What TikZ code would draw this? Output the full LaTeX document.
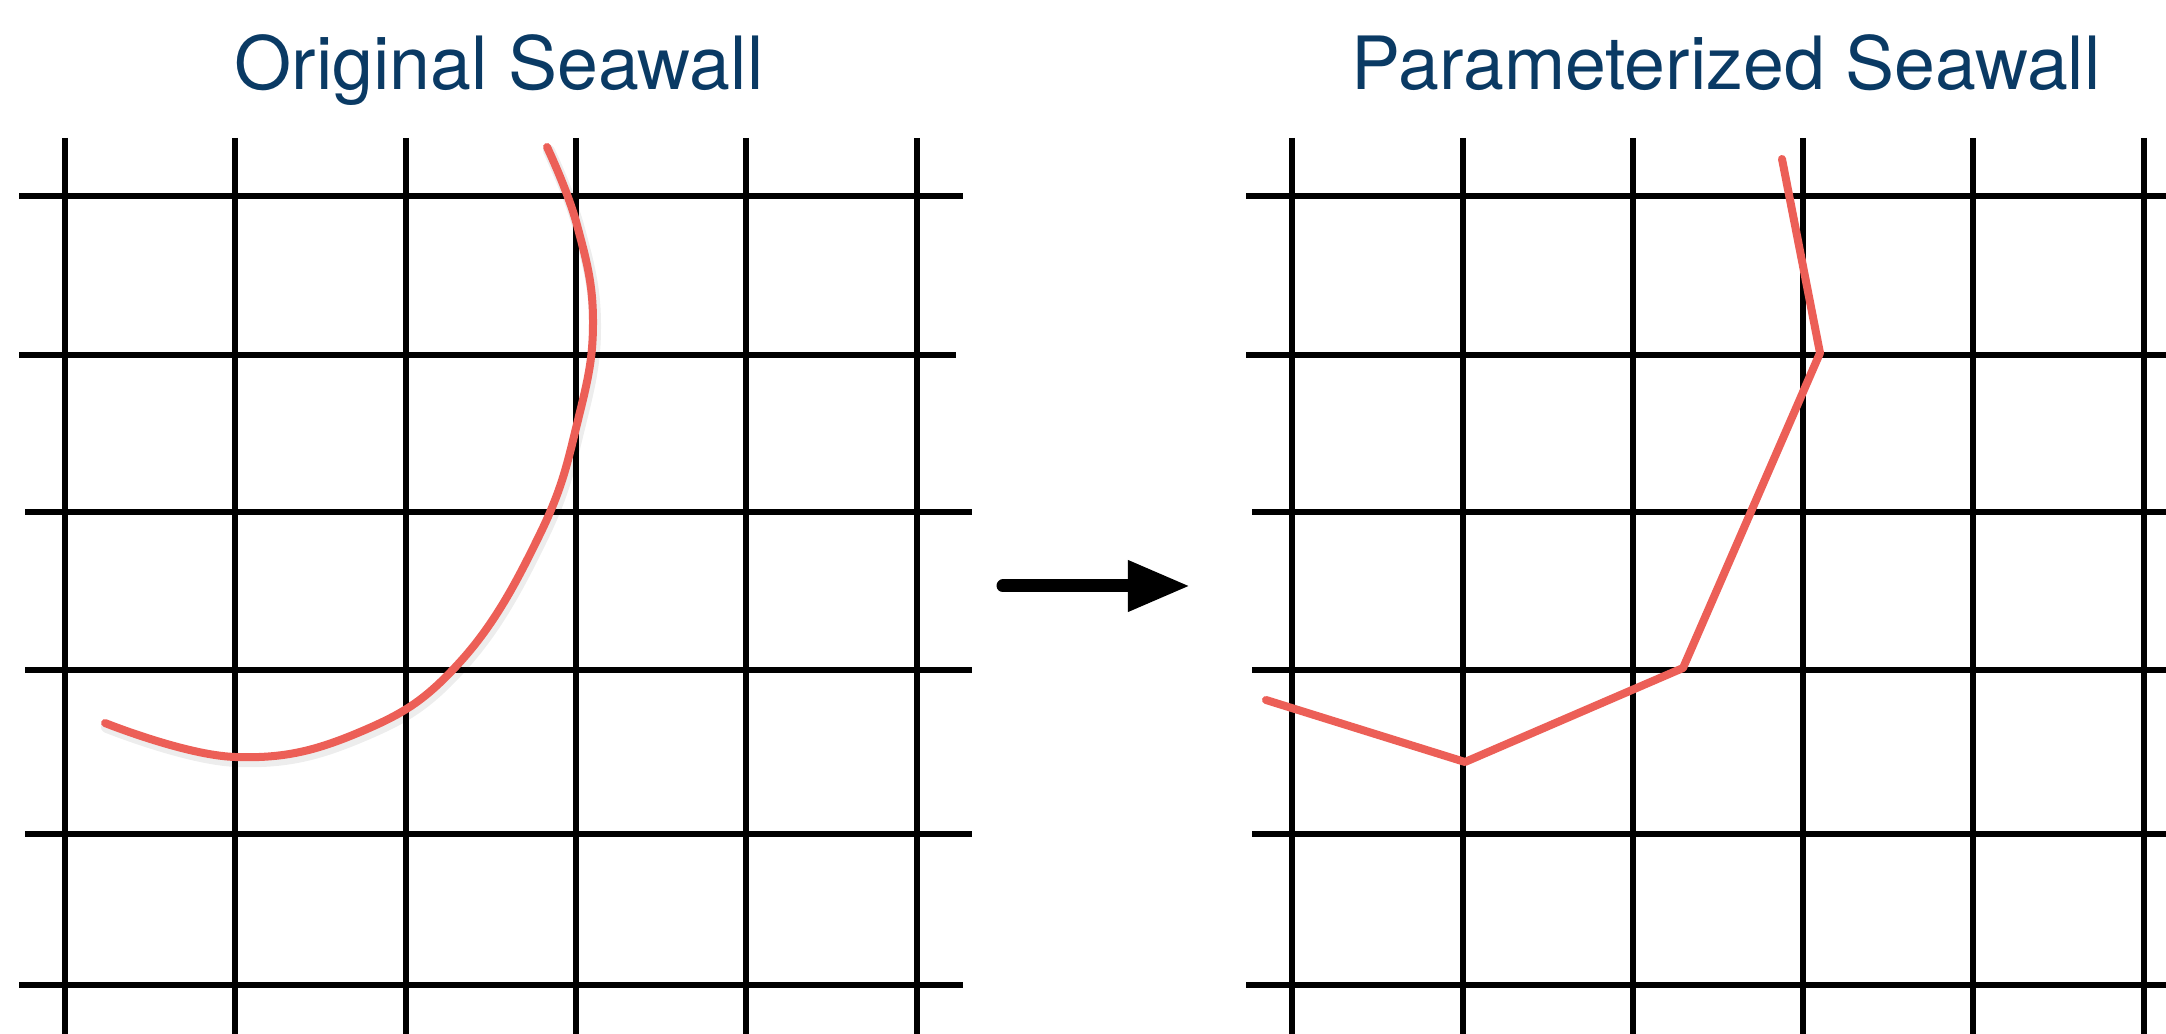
\documentclass[tikz,border=0pt]{standalone}
\usepackage{fontspec}
\setmainfont{TeX Gyre Heros}
\usepackage{xcolor}
\usetikzlibrary{arrows.meta}
\definecolor{titleblue}{RGB}{10,58,100}
\definecolor{wallred}{RGB}{236,95,87}

\begin{document}
\begin{tikzpicture}[
  x=0.01cm, y=-0.01cm,
  title/.style={font=\fontsize{20.9}{25}\selectfont, text=titleblue,
    anchor=base, inner sep=0pt},
  gridline/.style={line width=0.55mm, black},
  wall/.style={line width=0.8mm, wallred, line join=round, line cap=round},
  wallshadow/.style={line width=1.2mm, black, opacity=0.07, line cap=round},
  >={Triangle[length=6.2mm, width=4.8mm]}
]
\useasboundingbox (0,0) rectangle (2166,1034);

\node[title] (orig) at (499,90) {Original Seawall};
\node[title] (param) at (1726,90) {Parameterized Seawall};

\foreach \x in {65,235,406,576,746,917}
  \draw[gridline] (\x,138) -- (\x,1034);
\foreach \y/\a/\b in {196/19/963, 355/19/956, 512/25/972, 670/25/972, 834/25/972, 985/19/963}
  \draw[gridline] (\a,\y) -- (\b,\y);

\foreach \x in {1292,1463,1633,1803,1973,2144}
  \draw[gridline] (\x,138) -- (\x,1034);
\foreach \y/\a in {196/1246, 355/1246, 512/1252, 670/1252, 834/1252, 985/1246}
  \draw[gridline] (\a,\y) -- (2166,\y);

\draw[wallshadow, shift={(2,4)}] plot[smooth, tension=0.7] coordinates {(105,723) (235,757) (360,732) (460,662) (540,534) (578,420) (593,320) (577,225) (547,147)};
\draw[wall] plot[smooth, tension=0.7] coordinates {(105,723) (235,757) (360,732) (460,662) (540,534) (578,420) (593,320) (577,225) (547,147)};

\draw[wall] (1266,700) -- (1465,762) -- (1683,668) -- (1820,353) -- (1782,159);

\coordinate (from) at (1003,586);
\coordinate (to) at (1190,586);
\draw[->, line width=1.3mm, line cap=round] (from) -- (to);
\end{tikzpicture}
\end{document}
